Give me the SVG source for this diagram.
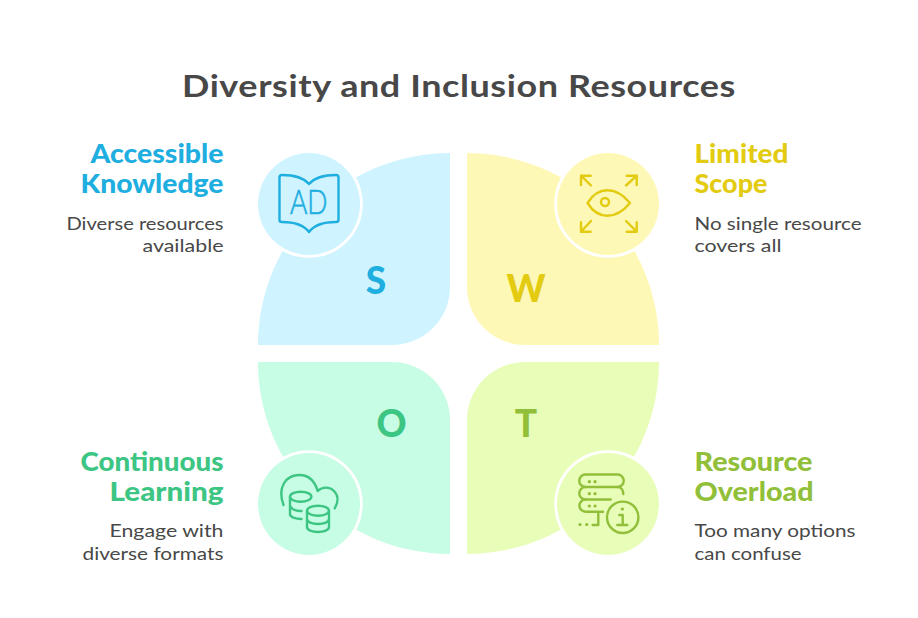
<svg xmlns="http://www.w3.org/2000/svg" width="918" height="618" viewBox="0 0 918 618">
<style>
text{font-family:"Lato","Noto Sans",sans-serif}
.title{font-size:31px;font-weight:700;fill:#484848;letter-spacing:.5px}
.head{font-size:26px;font-weight:900}
.body{font-size:18px;fill:#484848}
.letter{font-size:37px;font-weight:900;text-anchor:middle}
.end{text-anchor:end}
.ring{stroke:#fff;stroke-width:5.500;paint-order:stroke}
.icon{fill:none;stroke-width:2.400;stroke-linecap:round;stroke-linejoin:round}
.dots{stroke-width:3.200}
.blue{fill:#1EAEDF}.yellow{fill:#E2CB10}.green{fill:#3CC583}.lime{fill:#91BF3A}
.sb{stroke:#1EAEDF}.sy{stroke:#E2CB10}.sg{stroke:#3CC583}.sl{stroke:#91BF3A}
.bb{fill:#CFF4FF}.by{fill:#FEF8B6}.bg{fill:#C6FDE4}.bl{fill:#E8FDB8}
</style>
<rect width="918" height="618" fill="#fff"/>
<text class="title" x="182" y="97" textLength="554" lengthAdjust="spacingAndGlyphs">Diversity and Inclusion Resources</text>
<g id="connectors"/>
<g id="strength">
<path class="bb" d="M450 153V287A58 58 0 0 1 392 345H258A192 192 0 0 1 450 153Z"/>
<text class="letter blue" x="376" y="294">S</text>
<circle class="bb ring" cx="309" cy="204" r="51"/>
<g class="icon sb">
<path d="M309 184C303 177 292 175 282 175Q279.500 175 279.500 177.500V220Q279.500 222 282 222C292 222 303 224 309 232C315 224 326 222 336 222Q338.500 222 338.500 220V177.500Q338.500 175 336 175C326 175 315 177 309 184Z"/>
</g>
<text class="blue sb" x="290" y="214" font-size="34" font-weight="300" stroke-width="0.700" textLength="37.500" lengthAdjust="spacingAndGlyphs">AD</text>
<text class="head blue end" x="223.500" y="163" textLength="133" lengthAdjust="spacingAndGlyphs">Accessible</text>
<text class="head blue end" x="223.500" y="193" textLength="143" lengthAdjust="spacingAndGlyphs">Knowledge</text>
<text class="body end" x="223.500" y="230" textLength="157" lengthAdjust="spacingAndGlyphs">Diverse resources</text>
<text class="body end" x="223.500" y="252" textLength="81" lengthAdjust="spacingAndGlyphs">available</text>
</g>
<g id="weakness">
<path class="by" d="M467 153V287A58 58 0 0 0 525 345H659A192 192 0 0 0 467 153Z"/>
<text class="letter yellow" x="526" y="302">W</text>
<circle class="by ring" cx="608" cy="204" r="51"/>
<g class="icon sy">
<path d="M587.500 203C598 186 616 186 630 203C616 220 598 220 587.500 203Z"/>
<circle cx="605" cy="202" r="4"/>
<path d="M591 185.500L581 175.700M581 185V175.700H590.700M626 185.500L636.700 175.700M626.700 175.700H636.700V185M591 221L581 231.700M581 222.300V231.700H590.700M626 221L636.700 231.700M636.700 222.300V231.700H626.700"/>
</g>
<text class="head yellow" x="694.500" y="163" textLength="94" lengthAdjust="spacingAndGlyphs">Limited</text>
<text class="head yellow" x="694.500" y="193" textLength="73" lengthAdjust="spacingAndGlyphs">Scope</text>
<text class="body" x="694.500" y="230" textLength="167" lengthAdjust="spacingAndGlyphs">No single resource</text>
<text class="body" x="694.500" y="252" textLength="87" lengthAdjust="spacingAndGlyphs">covers all</text>
</g>
<g id="opportunity">
<path class="bg" d="M450 554V420A58 58 0 0 0 392 362H258A192 192 0 0 0 450 554Z"/>
<text class="letter green" x="391.500" y="437">O</text>
<circle class="bg ring" cx="309" cy="504" r="51"/>
<g class="icon sg">
<path d="M283.500 505C277 487 286 475 299.500 475C309 475 315 482 317.700 491C323 486 330 487 334 491C339 496 338 503 334.700 508.300"/>
<ellipse cx="300.700" cy="496.700" rx="10.700" ry="5"/>
<path d="M290 496.700V514C290 517 295 519 301.500 519M290 505.500C291 509 296 511 301.500 511"/>
<ellipse cx="318" cy="510.700" rx="11" ry="5"/>
<path d="M307 510.700V527C307 530 312 532 318 532C324 532 329 530 329 527V510.700M307 519C307 522 312 524 318 524C324 524 329 522 329 519"/>
</g>
<text class="head green end" x="223.500" y="471" textLength="143" lengthAdjust="spacingAndGlyphs">Continuous</text>
<text class="head green end" x="223.500" y="501" textLength="114" lengthAdjust="spacingAndGlyphs">Learning</text>
<text class="body end" x="223.500" y="537" textLength="114" lengthAdjust="spacingAndGlyphs">Engage with</text>
<text class="body end" x="223.500" y="560" textLength="141" lengthAdjust="spacingAndGlyphs">diverse formats</text>
</g>
<g id="threat">
<path class="bl" d="M467 554V420A58 58 0 0 1 525 362H659A192 192 0 0 1 467 554Z"/>
<text class="letter lime" x="526" y="437">T</text>
<circle class="bl ring" cx="608" cy="504" r="51"/>
<g class="icon sl">
<path d="M585.500 474.500H617.500A6 6 0 0 1 617.500 487H585.500A6 6 0 0 1 585.500 474.500Z"/>
<path d="M585.500 487A6 6 0 0 0 585.500 499.500H610.700M617.500 487C621 487 623.300 490 623.300 494"/>
<path d="M585.500 499.500A6 6 0 0 0 585.500 511.700H603M598.300 511.700V525H592.700"/>
<circle cx="622.700" cy="517.300" r="15.700"/>
<path d="M619.300 515H622.700V525M617.300 525H627.300"/>
<path class="dots" d="M580 524.500H580.100M586.700 524.500H586.800M589.300 481.700H589.400M595 481.700H595.100M589.300 493.700H589.400M595 493.700H595.100M589.300 506H589.400M595 506H595.100M622.300 509H622.400"/>
</g>
<text class="head lime" x="694.500" y="471" textLength="118" lengthAdjust="spacingAndGlyphs">Resource</text>
<text class="head lime" x="694.500" y="501" textLength="119" lengthAdjust="spacingAndGlyphs">Overload</text>
<text class="body" x="694.500" y="537" textLength="161" lengthAdjust="spacingAndGlyphs">Too many options</text>
<text class="body" x="694.500" y="560" textLength="107" lengthAdjust="spacingAndGlyphs">can confuse</text>
</g>
</svg>
